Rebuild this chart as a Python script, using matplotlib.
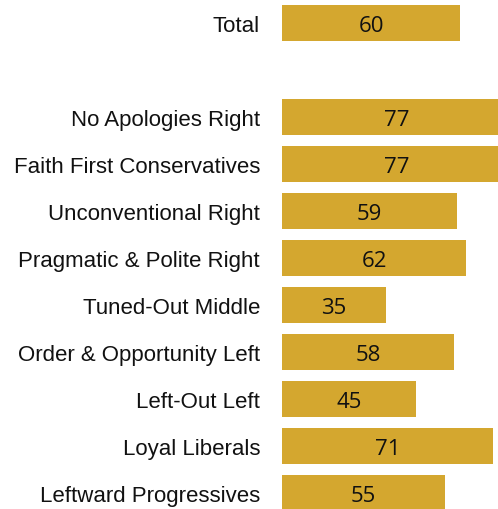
import matplotlib.pyplot as plt

# data
categories = ["Total", "No Apologies Right", "Faith First Conservatives",
              "Unconventional Right", "Pragmatic & Polite Right",
              "Tuned-Out Middle", "Order & Opportunity Left",
              "Left-Out Left", "Loyal Liberals", "Leftward Progressives"]
values = [60, 77, 77, 59, 62, 35, 58, 45, 71, 55]
# Total sits at row 0, a blank row follows, then the groups
rows = [0, 2, 3, 4, 5, 6, 7, 8, 9, 10]

plt.rcParams['font.family'] = ['Liberation Sans', 'DejaVu Sans']

fig = plt.figure(figsize=(4.98, 5.10), dpi=100)
ax = fig.add_axes([282 / 498, 0, 1 - 282 / 498, 1])

ax.barh(rows, values, height=0.77, color='#D4A72F')
for r, v in zip(rows, values):
    ax.text(v / 2, r, str(v), ha='center', va='center_baseline', fontsize=16,
            family=['Open Sans', 'DejaVu Sans'], color='#111111')

ax.set_xlim(0, 72.7)
ax.set_ylim(10 + 16 / 47, -24 / 47)
ax.set_yticks(rows)
ax.set_yticklabels(categories, fontsize=16, color='#111111', va='center_baseline')
ax.tick_params(axis='y', length=0, pad=15.8)
ax.set_xticks([])
for s in ax.spines.values():
    s.set_visible(False)

fig.savefig('out.png', dpi=100)
